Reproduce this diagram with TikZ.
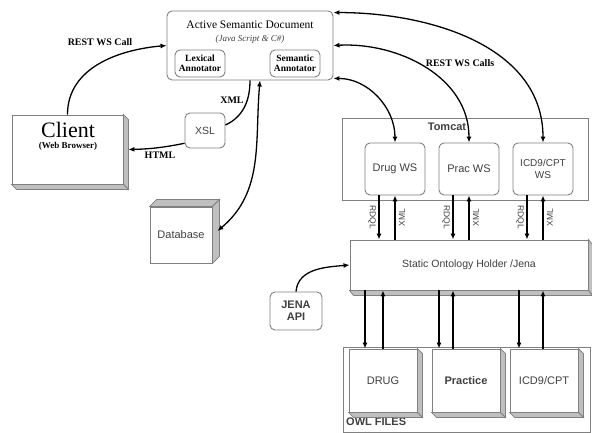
\documentclass[tikz,border=0pt]{standalone}
\usepackage{fontspec}
\setmainfont{Liberation Serif}
\setsansfont{Liberation Sans}
\usepackage{tikz}
\usetikzlibrary{calc, arrows.meta}
\definecolor{boxline}{gray}{0.5}
\definecolor{shade}{gray}{0.75}
\definecolor{txt}{gray}{0.25}
\newcommand{\fsz}[1]{\fontsize{#1}{#1}\selectfont}
% right and bottom faces of a box
\newcommand{\depthfaces}[3]{%
  \filldraw[face] (#1.north east) -- ++(#2,#3) -- ($(#1.south east)+(#2,#3)$) -- (#1.south east) -- cycle;
  \filldraw[face] (#1.south west) -- ++(#2,#3) -- ($(#1.south east)+(#2,#3)$) -- (#1.south east) -- cycle;}

\begin{document}
\begin{tikzpicture}[x=1pt, y=1pt, >={Latex[length=6pt,width=5pt]},
  rbox/.style={draw=boxline, line width=0.9pt, fill=white, rounded corners=5pt, inner sep=0pt, align=center, text=txt, font=\sffamily\fsz{11}},
  sbox/.style={draw=boxline, line width=0.9pt, fill=white, inner sep=0pt, align=center, text=txt, font=\sffamily\fsz{11}},
  face/.style={draw=boxline, line width=0.8pt, fill=shade},
  conn/.style={line width=1.3pt},
  lbl/.style={font=\bfseries\fsz{10}},
  vlbl/.style={font=\sffamily\fsz{8.5}, text=txt, inner sep=0pt}]
\useasboundingbox (0,0) rectangle (592,433);
\fill[white] (0,0) rectangle (592,433);

% document and its annotators
\node[rbox, minimum width=166pt, minimum height=69pt] (asd) at (250,387.5) {};
\node[font=\fsz{11.5}] (asdtitle) at (250,408) {Active Semantic Document};
\node[font=\itshape\fsz{9}, text=txt] (asdsub) at (250,394) {(Java Script \& C\#)};
\node[rbox, font=\rmfamily\bfseries\fsz{9.5}, text=black, minimum width=50pt, minimum height=27pt] (lexical) at (200,369.5) {Lexical\\Annotator};
\node[rbox, font=\rmfamily\bfseries\fsz{9.5}, text=black, minimum width=50pt, minimum height=27pt] (semantic) at (295,369.5) {Semantic\\Annotator};

% client side
\node[rbox, minimum width=40pt, minimum height=35pt, font=\sffamily\fsz{10.5}] (xsl) at (205,302.5) {XSL};
\node[sbox, minimum width=111pt, minimum height=69pt] (client) at (67.5,283.5) {};
\depthfaces{client}{5}{-5}
\node[font=\fsz{22}] (clientname) at (68,303) {Client};
\node[font=\bfseries\fsz{9}] (clientsub) at (68,287) {(Web Browser)};
\node[sbox, minimum width=62pt, minimum height=56pt] (database) at (181,198) {Database};
\filldraw[face] (database.north west) -- ++(7,7) -- ($(database.north east)+(7,7)$) -- (database.north east) -- cycle;
\filldraw[face] (database.north east) -- ++(7,7) -- ($(database.south east)+(7,7)$) -- (database.south east) -- cycle;

% tomcat and services
\node[sbox, minimum width=246pt, minimum height=82pt] (tomcat) at (465,274) {};
\node[font=\sffamily\bfseries\fsz{11}, text=txt] (tomcatlbl) at (447,306) {Tomcat};
\node[rbox, minimum width=60pt, minimum height=52pt] (drugws) at (395,264) {Drug WS};
\node[rbox, minimum width=60pt, minimum height=52pt] (pracws) at (469,264) {Prac WS};
\node[rbox, minimum width=60pt, minimum height=52pt, font=\sffamily\fsz{10}] (icdws) at (543,264) {ICD9/CPT\\[2pt]WS};

\node[sbox, minimum width=238pt, minimum height=50pt, font=\sffamily\fsz{10.5}] (static) at (469,168) {Static Ontology Holder /Jena};
\depthfaces{static}{4}{-5}
\node[rbox, minimum width=52pt, minimum height=38pt, font=\sffamily\bfseries\fsz{11}] (jena) at (296,122) {JENA\\[1pt]API};

% owl files
\node[sbox, minimum width=247pt, minimum height=85pt] (owl) at (466.5,43.5) {};
\node[font=\sffamily\bfseries\fsz{11}, text=txt, anchor=west, inner sep=0pt] (owllbl) at (346,11) {OWL FILES};
\node[sbox, minimum width=68pt, minimum height=63pt] (drug) at (383,52.5) {DRUG};
\node[sbox, minimum width=68pt, minimum height=63pt] (practice) at (466,52.5) {\bfseries Practice};
\node[sbox, minimum width=68pt, minimum height=63pt] (icd) at (544,52.5) {ICD9/CPT};
\depthfaces{drug}{5}{-5}
\depthfaces{practice}{5}{-5}
\depthfaces{icd}{5}{-5}

% connectors
\draw[conn, ->] (client.north) to[out=90, in=185] (asd.west);
\node[lbl] at (100,391) {REST WS Call};
\draw[conn] (asd.south) to[out=-90, in=25] (xsl.15);
\node[lbl] at (232,333) {XML};
\draw[conn, ->] (xsl.212) to[bend left=5] ([xshift=5pt]client.east);
\node[lbl] at (160,278) {HTML};
\draw[conn, <->] ([xshift=10pt]asd.south) to[out=-95, in=40] ([shift={(5pt,4pt)}]database.east);

\draw[conn, <->] ([yshift=2pt]asd.south east) to[out=0, in=90] (drugws.north);
\draw[conn, <->] (asd.east) to[out=3, in=90] (pracws.north);
\draw[conn, <->] ([yshift=-2pt]asd.north east) to[out=0, in=90] (icdws.north);
\node[lbl] at (460,370) {REST WS Calls};

\foreach \w in {drugws, pracws, icdws} {
  \draw[conn, ->] ($(\w.south)+(-16,0)$) -- ($(\w.south |- static.north)+(-16,0)$);
  \draw[conn, ->] (\w.south |- static.north) -- (\w.south);
  \node[vlbl, rotate=-90] at ($(\w.south)+(-23,-22)$) {RDQL};
  \node[vlbl, rotate=90] at ($(\w.south)+(7,-22)$) {XML};
}

\draw[conn, ->] (jena.north) to[out=85, in=185] (static.west);

\foreach \f/\d/\u in {drug/-18/0, practice/-27/-13, icd/-25/-1} {
  \draw[conn, ->] ($(\f.north |- static.south)+(\d,0)$) -- ($(\f.north)+(\d,0)$);
  \draw[conn, ->] ($(\f.north)+(\u,0)$) -- ($(\f.north |- static.south)+(\u,0)$);
}
\end{tikzpicture}
\end{document}
